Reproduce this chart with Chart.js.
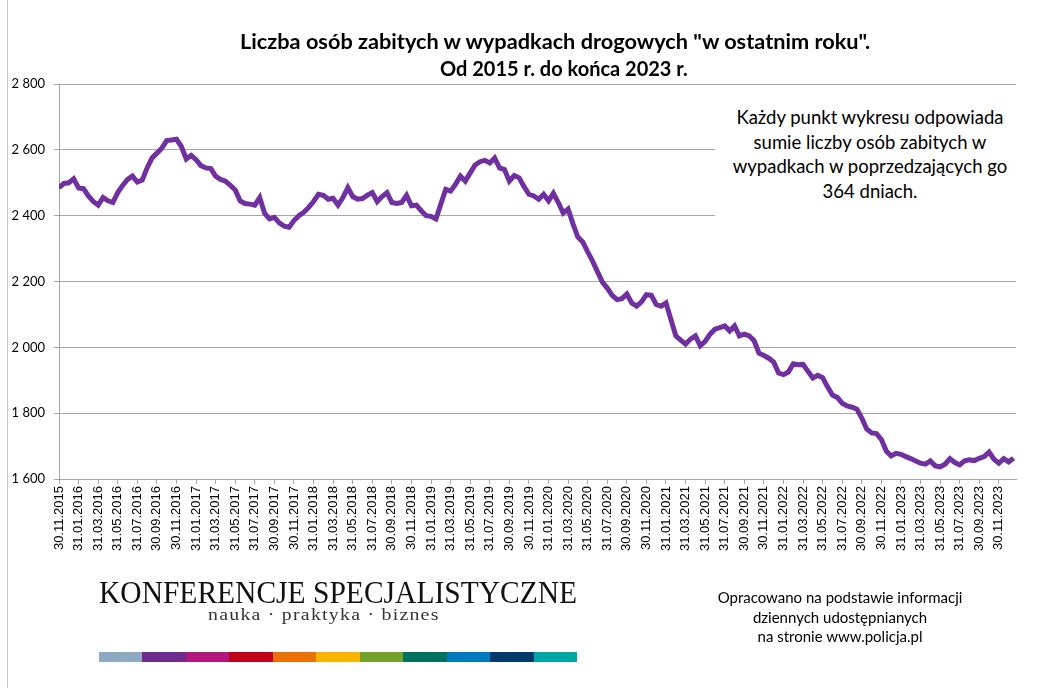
<!DOCTYPE html>
<html>
<head>
<meta charset="utf-8">
<script src="https://cdn.jsdelivr.net/npm/chart.js@4.4.1/dist/chart.umd.min.js"></script>
<style>
  body { margin: 0; background: #fff; }
  #wrap { position: relative; width: 1051px; height: 688px; overflow: hidden; }
  #chart { position: absolute; left: 0; top: 0; }
  .abs { position: absolute; white-space: nowrap; }
  .ttl { font: bold 20px Lato, sans-serif; color: #000; transform-origin: 0 0; }
  #title1 { left: 240px; top: 29px; }
  #title2 { left: 440px; top: 56px; }
  #note { left: 715px; top: 97px; width: 310px; height: 125px; background: #fff; text-align: center;
          font: 18.5px Lato, sans-serif; line-height: 24.5px; color: #000; padding-top: 8px; box-sizing: border-box; }
  #source { left: 690px; width: 300px; top: 588px; text-align: center; font: 15px Lato, sans-serif; line-height: 19.5px; color: #000; }
  #leftline { left: 7px; top: 0; width: 1px; height: 688px; background: #c8c8c8; }
  #logo { left: 99px; top: 575px; font: 31px "Liberation Serif", serif; color: #111; transform-origin: 0 0; }
  #motto { left: 208px; top: 606px; font: 16px "Liberation Serif", serif; color: #333; letter-spacing: 1px; transform-origin: 0 0; }
  #bar { left: 99px; top: 652px; width: 478px; height: 10px; display: flex; }
  #bar div { flex: 1; }
</style>
</head>
<body>
<div id="wrap">
  <canvas id="chart" width="1051" height="688"></canvas>
  <div class="abs" id="leftline"></div>
  <div class="abs ttl" id="title1">Liczba osób zabitych w wypadkach drogowych "w ostatnim roku".</div>
  <div class="abs ttl" id="title2">Od 2015 r. do końca 2023 r.</div>
  <div class="abs" id="note">Każdy punkt wykresu odpowiada<br>sumie liczby osób zabitych w<br>wypadkach w poprzedzających go<br>364 dniach.</div>
  <div class="abs" id="source">Opracowano na podstawie informacji<br>dziennych udostępnianych<br>na stronie www.policja.pl</div>
  <div class="abs" id="logo">KONFERENCJE SPECJALISTYCZNE</div>
  <div class="abs" id="motto">nauka · praktyka · biznes</div>
  <div class="abs" id="bar"></div>
</div>
<script>
// tick labels, every 2 months
const tickLabels = [
  '30.11.2015', '31.01.2016', '31.03.2016', '31.05.2016', '31.07.2016', '30.09.2016', '30.11.2016',
  '31.01.2017', '31.03.2017', '31.05.2017', '31.07.2017', '30.09.2017', '30.11.2017',
  '31.01.2018', '31.03.2018', '31.05.2018', '31.07.2018', '30.09.2018', '30.11.2018',
  '31.01.2019', '31.03.2019', '31.05.2019', '31.07.2019', '30.09.2019', '30.11.2019',
  '31.01.2020', '31.03.2020', '31.05.2020', '31.07.2020', '30.09.2020', '30.11.2020',
  '31.01.2021', '31.03.2021', '31.05.2021', '31.07.2021', '30.09.2021', '30.11.2021',
  '31.01.2022', '31.03.2022', '31.05.2022', '31.07.2022', '30.09.2022', '30.11.2022',
  '31.01.2023', '31.03.2023', '31.05.2023', '31.07.2023', '30.09.2023', '30.11.2023'
];

// deaths in the last 364 days, read every half month from 30.11.2015
const killed = [
  2485, 2498, 2500, 2512, 2484, 2482, 2460, 2443, 2432, 2455, 2445, 2440,
  2470, 2492, 2510, 2520, 2502, 2508, 2545, 2575, 2590, 2605, 2628, 2630,
  2632, 2610, 2572, 2583, 2570, 2552, 2545, 2543, 2520, 2510, 2505, 2492,
  2478, 2445, 2437, 2435, 2432, 2455, 2407, 2390, 2395, 2378, 2368, 2365,
  2385, 2400, 2410, 2425, 2443, 2465, 2462, 2450, 2453, 2432, 2455, 2485,
  2458, 2450, 2452, 2462, 2470, 2443, 2458, 2470, 2440, 2437, 2440, 2462,
  2430, 2432, 2415, 2400, 2398, 2390, 2435, 2480, 2475, 2495, 2520, 2505,
  2530, 2554, 2564, 2568, 2560, 2575, 2545, 2540, 2505, 2522, 2515, 2488,
  2465, 2460, 2450, 2465, 2445, 2468, 2440, 2408, 2420, 2375, 2335, 2320,
  2290, 2262, 2230, 2198, 2180, 2158, 2145, 2148, 2162, 2135, 2125, 2138,
  2160, 2158, 2130, 2125, 2135, 2085, 2035, 2022, 2010, 2025, 2035, 2005,
  2018, 2040, 2055, 2060, 2065, 2050, 2065, 2035, 2040, 2035, 2020, 1982,
  1975, 1967, 1955, 1922, 1917, 1925, 1950, 1947, 1948, 1927, 1907, 1915,
  1908, 1880, 1855, 1848, 1830, 1822, 1818, 1812, 1785, 1752, 1740, 1738,
  1720, 1685, 1670, 1678, 1675, 1668, 1662, 1655, 1648, 1645, 1655, 1640,
  1637, 1645, 1662, 1650, 1643, 1655, 1658, 1656, 1663, 1668, 1682, 1660,
  1648, 1662, 1652, 1663
];
const step = 0.5; // months between readings

const logoColors = ['#8eaac3', '#6e2c8f', '#b3177e', '#c2001c', '#ec7105', '#fbb400', '#74a22a', '#00725e', '#007bc2', '#013a6f', '#00a6a4'];
const bar = document.getElementById('bar');
logoColors.forEach(c => {
  const d = document.createElement('div');
  d.style.background = c;
  bar.appendChild(d);
});

// squeeze text to the reference width
function fit(id, w) {
  const el = document.getElementById(id);
  el.style.transform = 'scaleX(' + (w / el.scrollWidth) + ')';
}
fit('logo', 478);
fit('motto', 232);
fit('title1', 630);
fit('title2', 248);

const fmt = v => String(v).replace(/\B(?=(\d{3})+(?!\d))/g, ' ');
const gray = '#a6a6a6';

const ctx = document.getElementById('chart').getContext('2d');
new Chart(ctx, {
  type: 'line',
  data: {
    datasets: [{
      data: killed.map((v, i) => ({ x: i * step, y: v })),
      borderColor: '#7030a0',
      borderWidth: 5,
      pointRadius: 0,
      tension: 0,
      fill: false
    }]
  },
  options: {
    responsive: false,
    animation: false,
    layout: { padding: { top: 84, right: 35, left: 0, bottom: 0 } },
    plugins: { legend: { display: false }, tooltip: { enabled: false } },
    scales: {
      x: {
        type: 'linear',
        min: 0,
        max: 97.75,
        afterBuildTicks: s => { s.ticks = tickLabels.map((t, i) => ({ value: i * 2 })); },
        afterFit: s => { s.height = 209; },
        grid: { drawOnChartArea: false, tickLength: 5, color: gray },
        border: { color: gray },
        ticks: {
          autoSkip: false,
          minRotation: 90,
          maxRotation: 90,
          padding: 2,
          color: '#000',
          font: { family: 'Liberation Sans', size: 13 },
          callback: v => tickLabels[Math.round(v / 2)]
        }
      },
      y: {
        min: 1600,
        max: 2800,
        afterFit: s => { s.width = 59; },
        grid: { color: gray, tickLength: 5 },
        border: { color: gray },
        ticks: {
          stepSize: 200,
          padding: 9,
          color: '#000',
          font: { family: 'Lato', size: 13 },
          callback: v => fmt(v)
        }
      }
    }
  }
});
</script>
</body>
</html>
